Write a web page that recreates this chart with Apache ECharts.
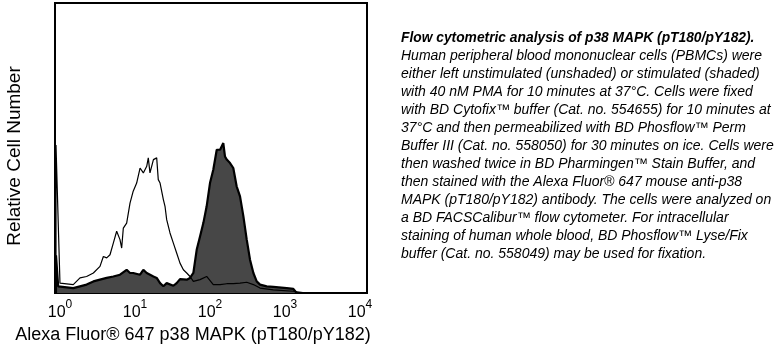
<!DOCTYPE html>
<html>
<head>
<meta charset="utf-8">
<script src="https://cdn.jsdelivr.net/npm/echarts@6/dist/echarts.min.js"></script>
<style>
  html, body { margin: 0; padding: 0; background: #fff; }
  #chart { width: 780px; height: 351px; }
</style>
</head>
<body>
<div id="chart"></div>
<script>
// fluorescence intensity (log scale) vs relative cell number (% of full scale)
const unstimulated = [
  [1, 0], [1, 51], [1.13, 3.4], [1.70, 2.9], [2.09, 5.2], [2.56, 5.7], [3.15, 6.9],
  [3.86, 9.2], [4.28, 12.6], [4.74, 12.1], [5.25, 13.2], [5.81, 17.2], [6.44, 21.3],
  [7.13, 18.4], [7.51, 15.5], [7.90, 22.4], [8.75, 24.1], [9.70, 31.0], [10.7, 35.1],
  [11.9, 37.9], [13.2, 43.1], [14.6, 41.4], [16.2, 43.7], [17.0, 46.6], [17.9, 41.4],
  [19.9, 46.0], [22.0, 46.6], [23.1, 39.1], [24.4, 37.9], [27.0, 32.2], [28.4, 29.9],
  [29.9, 25.3], [33.1, 20.7], [36.7, 17.2], [40.6, 13.8], [45.0, 10.3], [49.9, 8.0],
  [55.3, 6.9], [61.2, 5.7], [67.8, 4.0], [83.2, 4.6], [102, 5.7], [125, 2.9],
  [154, 2.9], [189, 3.2], [231, 3.2], [284, 3.4], [349, 3.7], [428, 2.9], [525, 1.7],
  [790, 1.1], [1460, 0.6], [2198, 0]
];
const stimulated = [
  [1, 0], [1, 13], [1.07, 2.3], [1.70, 1.7], [2.56, 2.9], [3.15, 4.0], [3.86, 4.6],
  [4.74, 5.2], [5.81, 5.7], [7.13, 6.3], [8.75, 8.0], [9.70, 6.9], [10.7, 6.9],
  [13.2, 6.3], [14.6, 8.0], [16.2, 6.9], [19.9, 5.7], [22.0, 5.2], [24.4, 3.4],
  [27.0, 2.3], [29.9, 3.4], [36.7, 2.5], [40.6, 3.4], [45.0, 4.8], [55.3, 4.6],
  [61.2, 5.2], [67.8, 6.9], [75.1, 14.9], [83.2, 19.5], [92.1, 24.1], [102, 29.9],
  [113, 37.9], [125, 42.5], [139, 49.4], [154, 49.4], [170, 51.7], [179, 47.1],
  [189, 46.0], [209, 44.8], [231, 43.1], [256, 36.8], [284, 33.3], [315, 26.4],
  [349, 18.4], [386, 11.5], [428, 6.9], [474, 4.0], [525, 2.9], [644, 2.3], [790, 2.1],
  [1191, 1.7], [1460, 1.4], [1617, 0]
];
// the plot frame runs a little past the first and last decade
const xMin = 0.97;
const xMax = 14000;

const captionTitle = 'Flow cytometric analysis of p38 MAPK (pT180/pY182).';
const captionLines = [
  'Human peripheral blood mononuclear cells (PBMCs) were',
  'either left unstimulated (unshaded) or stimulated (shaded)',
  'with 40 nM PMA for 10 minutes at 37°C. Cells were fixed',
  'with BD Cytofix™ buffer (Cat. no. 554655) for 10 minutes at',
  '37°C and then permeabilized with BD Phosflow™ Perm',
  'Buffer III (Cat. no. 558050) for 30 minutes on ice. Cells were',
  'then washed twice in BD Pharmingen™ Stain Buffer, and',
  'then stained with the Alexa Fluor® 647 mouse anti-p38',
  'MAPK (pT180/pY182) antibody. The cells were analyzed on',
  'a BD FACSCalibur™ flow cytometer. For intracellular',
  'staining of human whole blood, BD Phosflow™ Lyse/Fix',
  'buffer (Cat. no. 558049) may be used for fixation.'
];

const FONT = '"Liberation Sans", Arial, sans-serif';

const caption = [{
  type: 'text', left: 401, top: 31,
  style: { text: captionTitle, font: 'italic bold 13.8px ' + FONT, fill: '#000' }
}];
captionLines.forEach((line, i) => {
  caption.push({
    type: 'text', left: 401, top: 49 + i * 18,
    style: { text: line, font: 'italic 14px ' + FONT, fill: '#000' }
  });
});

const chart = echarts.init(document.getElementById('chart'));
chart.setOption({
  animation: false,
  backgroundColor: '#fff',
  textStyle: { fontFamily: FONT },
  grid: {
    left: 55, top: 3, right: 413, bottom: 58,
    show: true, borderColor: '#000', borderWidth: 2, backgroundColor: '#fff'
  },
  xAxis: {
    type: 'log', logBase: 10, min: xMin, max: xMax,
    name: 'Alexa Fluor® 647 p38 MAPK (pT180/pY182)',
    nameLocation: 'middle', nameGap: 24,
    nameTextStyle: { fontSize: 18, color: '#000', padding: [0, 36, 0, 0] },
    axisLine: { lineStyle: { color: '#000', width: 2 } },
    axisTick: { show: false },
    minorTick: { show: false },
    splitLine: { show: false },
    axisLabel: {
      showMinLabel: false, showMaxLabel: false, margin: 6,
      padding: [0, 0, 0, 8],
      formatter: v => {
        const e = Math.log10(v);
        if (Math.abs(e - Math.round(e)) > 0.01) return '';
        return '{b|10}{s|' + Math.round(e) + '}';
      },
      rich: {
        b: { fontSize: 16, color: '#000', lineHeight: 22, verticalAlign: 'bottom' },
        s: { fontSize: 12, color: '#000', verticalAlign: 'top' }
      }
    }
  },
  yAxis: {
    type: 'value', min: 0, max: 100,
    name: 'Relative Cell Number',
    nameLocation: 'middle', nameGap: 31,
    nameTextStyle: { fontSize: 19, color: '#000', padding: [0, 16, 0, 0] },
    axisLine: { show: true, lineStyle: { color: '#000', width: 2 } },
    axisTick: { show: false },
    axisLabel: { show: false },
    splitLine: { show: false }
  },
  series: [
    {
      name: 'stimulated', type: 'line', data: stimulated,
      symbol: 'none', z: 2,
      lineStyle: { color: '#000', width: 2.2 },
      areaStyle: { color: '#474747', opacity: 1 }
    },
    {
      name: 'unstimulated', type: 'line', data: unstimulated,
      symbol: 'none', z: 3,
      lineStyle: { color: '#000', width: 1.2 }
    }
  ],
  graphic: caption
});
</script>
</body>
</html>
